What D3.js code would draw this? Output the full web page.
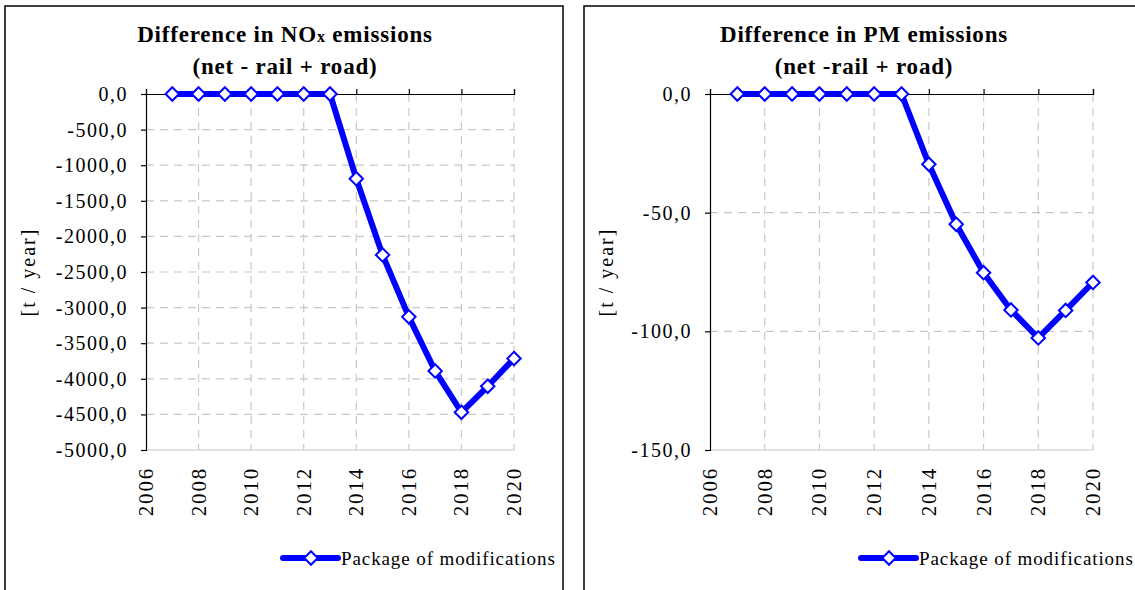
<!DOCTYPE html>
<html>
<head>
<meta charset="utf-8">
<script src="https://cdn.jsdelivr.net/npm/d3@7"></script>
<style>
    body { margin: 0; background: #fff; }
</style>
</head>
<body>
<div id="chart"></div>
<script>
// data
var years = [2007, 2008, 2009, 2010, 2011, 2012, 2013, 2014, 2015, 2016, 2017, 2018, 2019, 2020];
var noxDiff = [0, 0, 0, 0, 0, 0, 0, -1190, -2260, -3130, -3890, -4470, -4105, -3715];
var pmDiff = [0, 0, 0, 0, 0, 0, 0, -29.6, -54.9, -75.3, -91.0, -102.8, -91.2, -79.4];
var yearTicks = [2006, 2008, 2010, 2012, 2014, 2016, 2018, 2020];
var noxTicks = [0, -500, -1000, -1500, -2000, -2500, -3000, -3500, -4000, -4500, -5000];
var pmTicks = [0, -50, -100, -150];
var seriesName = "Package of modifications";

var serif = "'Liberation Serif', 'Times New Roman', serif";
var locale = d3.formatLocale({decimal: ",", thousands: "", grouping: [3], currency: ["", ""], minus: "-"});
var fmt = locale.format(".1f");

var svg = d3.select("#chart").append("svg")
    .attr("width", 1135)
    .attr("height", 590)
    .style("font-family", serif);

function drawPanel(opts) {
    var g = svg.append("g");

    g.append("rect")
        .attr("x", opts.left).attr("y", 6)
        .attr("width", opts.panelWidth).attr("height", 600)
        .attr("fill", "#fff").attr("stroke", "#000").attr("stroke-width", 1.5);

    // title
    var t1 = g.append("text")
        .attr("x", opts.titleX).attr("y", 42)
        .attr("text-anchor", "middle")
        .style("font-family", serif)
        .style("font-size", "23px").style("font-weight", "bold").style("letter-spacing", "0.8px");
    opts.title1(t1);
    g.append("text")
        .attr("x", opts.titleX).attr("y", 74)
        .attr("text-anchor", "middle")
        .style("font-family", serif)
        .style("font-size", "23px").style("font-weight", "bold").style("letter-spacing", "0.8px")
        .text(opts.title2);

    var x = d3.scaleLinear().domain([2006, 2020]).range([opts.x0, opts.x1]);
    var y = d3.scaleLinear().domain([opts.yTicks[opts.yTicks.length - 1], 0]).range([450, 94]);

    // grid
    g.selectAll(".hgrid").data(opts.yTicks.slice(1, -1))
        .enter().append("line")
        .attr("x1", opts.x0).attr("x2", opts.x1)
        .attr("y1", function (d) { return y(d); })
        .attr("y2", function (d) { return y(d); })
        .attr("stroke", "#c8c8c8").attr("stroke-width", 1.2)
        .attr("stroke-dasharray", "8,6");
    g.selectAll(".vgrid").data(yearTicks.slice(1))
        .enter().append("line")
        .attr("x1", function (d) { return x(d); })
        .attr("x2", function (d) { return x(d); })
        .attr("y1", 94).attr("y2", 450)
        .attr("stroke", "#c8c8c8").attr("stroke-width", 1.2)
        .attr("stroke-dasharray", "8,6");
    g.append("line")
        .attr("x1", opts.x0).attr("x2", opts.x1)
        .attr("y1", 450).attr("y2", 450)
        .attr("stroke", "#c8c8c8").attr("stroke-width", 1.2);

    // y axis
    var yAxis = g.append("g")
        .attr("transform", "translate(" + opts.x0 + ",0)")
        .call(d3.axisLeft(y).tickValues(opts.yTicks).tickFormat(fmt).tickSize(5).tickPadding(13));
    yAxis.attr("font-family", null);
    yAxis.selectAll("text")
        .style("font-family", serif)
        .style("font-size", "20px").style("letter-spacing", "1.5px");

    // x axis sits at zero (top), labels below the plot
    var xAxis = g.append("g")
        .attr("transform", "translate(0," + y(0) + ")")
        .call(d3.axisTop(x).tickValues(yearTicks).tickSize(5).tickFormat(""));
    [yAxis, xAxis].forEach(function (a) {
        a.select(".domain").attr("stroke", "#000").attr("stroke-width", 1.2);
        a.selectAll(".tick line").attr("stroke", "#000").attr("stroke-width", 1.2);
    });

    g.selectAll(".xlabel").data(yearTicks)
        .enter().append("text")
        .attr("transform", function (d) { return "translate(" + (x(d) + 7) + ",467) rotate(-90)"; })
        .attr("text-anchor", "end")
        .style("font-family", serif)
        .style("font-size", "21px").style("letter-spacing", "1.8px")
        .text(function (d) { return d; });

    g.append("text")
        .attr("transform", "translate(" + opts.yLabelX + ",272) rotate(-90)")
        .attr("text-anchor", "middle")
        .style("font-family", serif)
        .style("font-size", "20px").style("letter-spacing", "2px")
        .text("[t / year]");

    // series
    var pts = years.map(function (d, i) { return {year: d, value: opts.values[i]}; });
    var line = d3.line()
        .x(function (d) { return x(d.year); })
        .y(function (d) { return y(d.value); });
    g.append("path")
        .datum(pts)
        .attr("d", line)
        .attr("fill", "none").attr("stroke", "#0000ff")
        .attr("stroke-width", 6).attr("stroke-linejoin", "round");

    var diamond = d3.symbol().type(d3.symbolDiamond2).size(115);
    g.selectAll(".pt").data(pts)
        .enter().append("path")
        .attr("d", diamond)
        .attr("transform", function (d) { return "translate(" + x(d.year) + "," + y(d.value) + ")"; })
        .attr("fill", "#fff").attr("stroke", "#0000ff").attr("stroke-width", 2);

    // legend
    g.append("line")
        .attr("x1", opts.legendX).attr("x2", opts.legendX + 55)
        .attr("y1", 558).attr("y2", 558)
        .attr("stroke", "#0000ff").attr("stroke-width", 6).attr("stroke-linecap", "round");
    g.append("path")
        .attr("d", diamond)
        .attr("transform", "translate(" + (opts.legendX + 28) + ",558)")
        .attr("fill", "#fff").attr("stroke", "#0000ff").attr("stroke-width", 2);
    g.append("text")
        .attr("x", opts.legendX + 58).attr("y", 565)
        .style("font-family", serif)
        .style("font-size", "19px").style("letter-spacing", "0.9px")
        .text(seriesName);
}

drawPanel({
    left: 5, panelWidth: 558, titleX: 285,
    x0: 146, x1: 514, yLabelX: 35,
    yTicks: noxTicks, values: noxDiff, legendX: 283,
    title1: function (t) {
        t.append("tspan").text("Difference in NO");
        t.append("tspan").style("font-size", "16px").text("x");
        t.append("tspan").text(" emissions");
    },
    title2: "(net - rail + road)"
});

drawPanel({
    left: 584, panelWidth: 560, titleX: 864,
    x0: 710, x1: 1093, yLabelX: 613,
    yTicks: pmTicks, values: pmDiff, legendX: 861,
    title1: function (t) { t.text("Difference in PM emissions"); },
    title2: "(net -rail + road)"
});
</script>
</body>
</html>
